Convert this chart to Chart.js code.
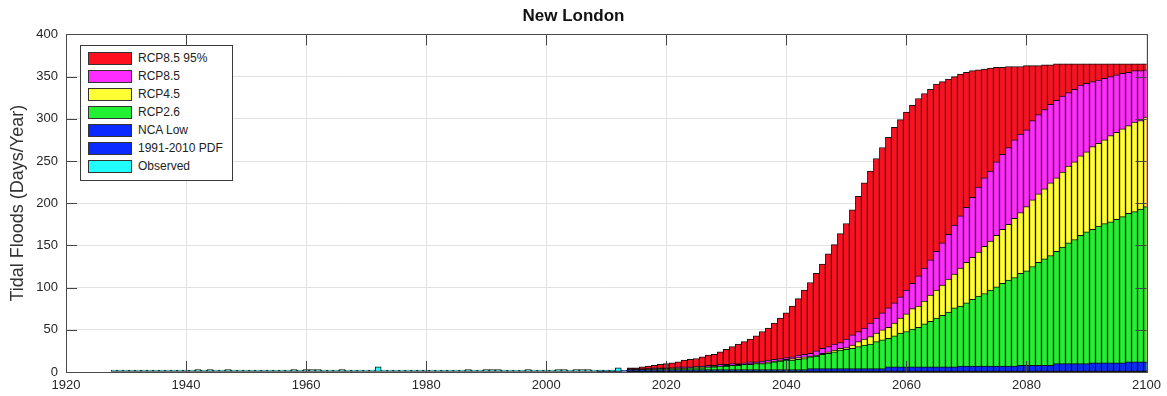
<!DOCTYPE html>
<html>
<head>
<meta charset="utf-8">
<title>New London</title>
<script src="https://cdn.jsdelivr.net/npm/chart.js@4.4.1/dist/chart.umd.min.js"></script>
<style>
  body { margin: 0; background: #fff; }
  #wrap { position: relative; width: 1167px; height: 396px; }
  #legend {
    position: absolute; left: 80px; top: 45px; width: 151px; height: 134px;
    background: #fff; border: 1px solid #3a3a3a;
    font-family: 'Liberation Sans', Arial, sans-serif; font-size: 12px; color: #222;
  }
  .row { position: absolute; left: 7px; height: 13px; line-height: 13px; white-space: nowrap; }
  .sw { display: inline-block; width: 42px; height: 11px; border: 1px solid #333; vertical-align: top; margin-right: 6px; }
</style>
</head>
<body>
<div id="wrap">
  <canvas id="chart"></canvas>
  <div id="legend"></div>
</div>
<script>
// observed record, 1928-2012 (20 years per row)
const obsStart = 1928;
const observed = [
  0, 0, 0, 0, 0, 0, 0, 0, 0, 0, 0, 0, 0, 0, 3, 0, 3, 0, 0, 3,
  0, 0, 0, 0, 0, 0, 0, 0, 0, 0, 3, 0, 3, 3, 3, 0, 0, 0, 3, 0,
  0, 0, 0, 0, 6, 0, 0, 0, 0, 0, 0, 0, 0, 0, 0, 0, 0, 0, 0, 3,
  0, 0, 3, 3, 3, 0, 0, 0, 0, 3, 0, 0, 0, 0, 3, 3, 0, 3, 3, 3,
  0, 0, 0, 2, 5
];
// 1991-2010 PDF, 2009-2013
const pdfYears = [2009, 2010, 2011, 2012, 2013];
const pdf = [2, 2, 2, 2, 2];

// projections, 2014-2100
const projStart = 2014;
const rcp85hi = [
  5, 5, 6, 7, 8, 9, 10, 11, 12, 14,
  15, 16, 18, 20, 21, 24, 27, 30, 33, 36,
  39, 43, 48, 52, 58, 64, 70, 78, 87, 97,
  106, 117, 128, 140, 151, 164, 176, 192, 208, 224,
  238, 253, 266, 278, 290, 299, 308, 316, 324, 330,
  335, 341, 344, 347, 350, 353, 355, 357, 358, 359,
  360, 361, 361, 362, 362, 362, 363, 363, 363, 364,
  364, 365, 365, 365, 365, 365, 365, 365, 365, 365,
  365, 365, 365, 365, 365, 365, 365
];
const rcp85 = [
  4, 4, 4, 4, 5, 5, 5, 5, 6, 6,
  6, 7, 7, 8, 8, 9, 9, 10, 10, 11,
  12, 12, 13, 14, 15, 16, 17, 18, 20, 21,
  22, 25, 28, 30, 33, 35, 39, 44, 48, 52,
  58, 64, 70, 76, 82, 89, 97, 105, 114, 123,
  133, 143, 153, 163, 174, 185, 195, 207, 219, 230,
  238, 249, 258, 266, 275, 282, 287, 298, 305, 311,
  317, 322, 327, 331, 335, 340, 342, 344, 346, 348,
  350, 352, 354, 355, 357, 357, 358
];
const rcp45 = [
  3, 3, 3, 4, 4, 4, 4, 5, 5, 5,
  5, 6, 6, 6, 7, 7, 8, 8, 9, 9,
  10, 11, 11, 12, 13, 14, 15, 16, 17, 18,
  19, 20, 22, 24, 26, 28, 29, 32, 36, 39,
  42, 46, 50, 53, 58, 64, 69, 75, 78, 84,
  91, 97, 103, 110, 116, 123, 130, 136, 142, 149,
  155, 162, 169, 175, 182, 189, 196, 204, 211, 217,
  224, 230, 237, 244, 249, 256, 261, 267, 271, 275,
  280, 284, 288, 292, 296, 298, 302
];
const rcp26 = [
  3, 3, 3, 3, 3, 4, 4, 4, 4, 4,
  5, 5, 5, 6, 6, 7, 7, 8, 8, 9,
  9, 10, 10, 11, 12, 13, 14, 14, 15, 16,
  18, 19, 21, 22, 24, 26, 27, 28, 30, 32,
  33, 36, 38, 40, 43, 46, 48, 51, 53, 57,
  60, 64, 67, 71, 76, 78, 82, 86, 90, 93,
  97, 101, 105, 109, 112, 117, 120, 125, 130, 134,
  138, 143, 148, 153, 157, 162, 166, 169, 173, 176,
  178, 181, 184, 188, 190, 193, 196
];
const ncaLow = [
  3, 3, 3, 3, 3, 3, 3, 3, 3, 3,
  3, 3, 3, 3, 3, 3, 3, 3, 3, 3,
  3, 3, 3, 3, 3, 3, 3, 3, 3, 3,
  4, 4, 4, 4, 4, 4, 4, 4, 4, 4,
  4, 4, 4, 6, 6, 6, 6, 6, 6, 6,
  6, 6, 6, 6, 6, 7, 7, 7, 7, 7,
  7, 7, 7, 7, 7, 8, 8, 8, 8, 8,
  8, 10, 10, 10, 10, 10, 10, 11, 11, 11,
  11, 11, 11, 12, 12, 12, 12
];

const xTicks = [1920, 1940, 1960, 1980, 2000, 2020, 2040, 2060, 2080, 2100];
const yTicks = [0, 50, 100, 150, 200, 250, 300, 350, 400];

function pts(start, values) {
  return values.map((v, i) => ({ x: start + i, y: v }));
}

const FONT = "'Liberation Sans', Arial, Helvetica, sans-serif";
Chart.defaults.font.family = FONT;
Chart.defaults.color = '#262626';

function ds(label, data, color, extra) {
  return Object.assign({
    label: label,
    data: data,
    backgroundColor: color,
    borderColor: '#111',
    borderWidth: 1,
    borderSkipped: false,
    barPercentage: 1,
    categoryPercentage: 1
  }, extra || {});
}

// first dataset is painted last (on top)
const datasets = [
  ds('Observed', pts(obsStart, observed), '#22ffff', { minBarLength: 2 }),
  ds('1991-2010 PDF', pdfYears.map((x, i) => ({ x: x, y: pdf[i] })), '#0a2aff'),
  ds('NCA Low', pts(projStart, ncaLow), '#0a2aff'),
  ds('RCP2.6', pts(projStart, rcp26), '#22f032'),
  ds('RCP4.5', pts(projStart, rcp45), '#ffff33'),
  ds('RCP8.5', pts(projStart, rcp85), '#ff2cff'),
  ds('RCP8.5 95%', pts(projStart, rcp85hi), '#ff1020')
];

// axes box and inward ticks, MATLAB style
const boxPlugin = {
  id: 'box',
  afterDatasetsDraw(chart) {
    const { ctx, chartArea: a, scales: { x, y } } = chart;
    ctx.save();
    ctx.strokeStyle = '#444';
    ctx.lineWidth = 1;
    ctx.beginPath();
    xTicks.forEach(t => {
      const px = Math.round(x.getPixelForValue(t)) + 0.5;
      ctx.moveTo(px, a.bottom); ctx.lineTo(px, a.bottom - 11);
      ctx.moveTo(px, a.top); ctx.lineTo(px, a.top + 11);
    });
    yTicks.forEach(t => {
      const py = Math.round(y.getPixelForValue(t)) + 0.5;
      ctx.moveTo(a.left, py); ctx.lineTo(a.left + 11, py);
      ctx.moveTo(a.right, py); ctx.lineTo(a.right - 11, py);
    });
    ctx.stroke();
    ctx.strokeStyle = '#4a4a4a';
    ctx.strokeRect(Math.round(a.left) + 0.5, Math.round(a.top) + 0.5,
      Math.round(a.right - a.left), Math.round(a.bottom - a.top));
    ctx.restore();
  }
};

new Chart(document.getElementById('chart'), {
  type: 'bar',
  data: { datasets: datasets },
  plugins: [boxPlugin],
  options: {
    responsive: true,
    maintainAspectRatio: false,
    animation: false,
    layout: { padding: { left: 0, right: 20, top: 0, bottom: 0 } },
    plugins: {
      legend: { display: false },
      tooltip: { enabled: false },
      title: {
        display: true,
        text: 'New London',
        color: '#111',
        font: { size: 17, weight: 'bold' },
        padding: { top: 6, bottom: 8 }
      }
    },
    scales: {
      x: {
        type: 'linear',
        stacked: true,
        offset: false,
        min: 1920,
        max: 2100,
        afterBuildTicks: s => { s.ticks = xTicks.map(v => ({ value: v })); },
        ticks: {
          font: { size: 13 }, padding: 6, maxRotation: 0, color: '#262626',
          callback: v => String(v)
        },
        grid: { color: '#e2e2e2', drawTicks: false, offset: false },
        border: { display: false },
        afterFit: s => { s.height = 24; }
      },
      y: {
        stacked: false,
        min: 0,
        max: 400,
        afterBuildTicks: s => { s.ticks = yTicks.map(v => ({ value: v })); },
        ticks: { font: { size: 13 }, padding: 8, color: '#262626' },
        grid: { color: '#e2e2e2', drawTicks: false },
        border: { display: false },
        title: {
          display: true,
          text: 'Tidal Floods (Days/Year)',
          color: '#333',
          font: { size: 18 },
          padding: { top: 7, bottom: 0 }
        },
        afterFit: s => { s.width = 66; }
      }
    }
  }
});

// legend box in the upper left, listed in reverse dataset order
const leg = document.getElementById('legend');
datasets.slice().reverse().forEach((d, i) => {
  const row = document.createElement('div');
  row.className = 'row';
  row.style.top = (6 + i * 18) + 'px';
  row.innerHTML = '<span class="sw" style="background:' + d.backgroundColor + '"></span>' + d.label;
  leg.appendChild(row);
});
</script>
</body>
</html>
